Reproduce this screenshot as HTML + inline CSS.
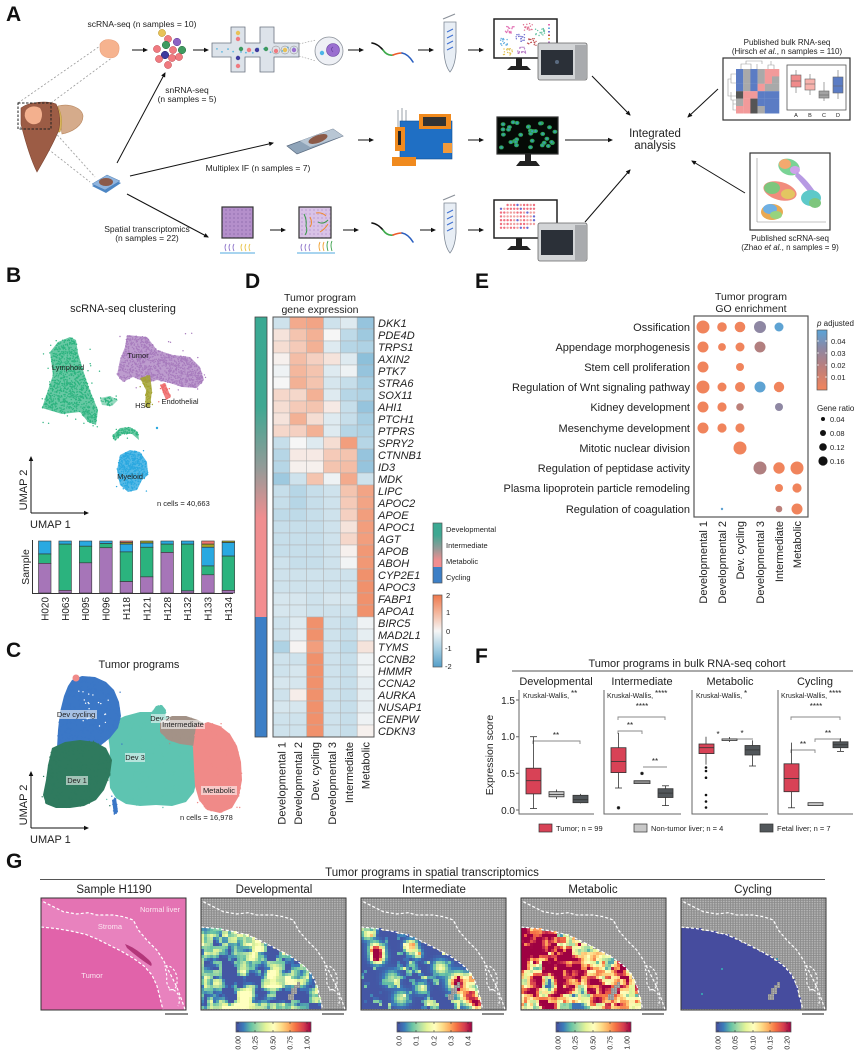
<!DOCTYPE html>
<html><head><meta charset="utf-8"><title>Figure</title>
<style>
html,body{margin:0;padding:0;background:#fff;width:865px;height:1058px;overflow:hidden}
svg{display:block}
text{font-family:"Liberation Sans",Arial,sans-serif;fill:#222}
.it{font-style:italic}
.lb{font-size:11px}
</style></head><body>
<svg id="fig" width="865" height="1058" viewBox="0 0 865 1058" xmlns="http://www.w3.org/2000/svg">
<defs>
 <marker id="ah" viewBox="0 0 10 10" refX="8" refY="5" markerWidth="5" markerHeight="5" orient="auto"><path d="M0,0.5 L10,5 L0,9.5 z" fill="#111"/></marker>
 <pattern id="gp" width="2.6" height="2.3" patternUnits="userSpaceOnUse"><rect width="2.6" height="2.3" fill="#8c8c8c"/><circle cx="1.3" cy="1.15" r="0.85" fill="#b8b8b8"/></pattern>
 <pattern id="pp" width="4" height="4" patternUnits="userSpaceOnUse"><rect width="4" height="4" fill="#b48fcb"/><circle cx="2" cy="2" r="1.1" fill="#a37ebd"/></pattern>
 <pattern id="pp2" width="4" height="4" patternUnits="userSpaceOnUse"><rect width="4" height="4" fill="#d9c2e6"/><circle cx="2" cy="2" r="1.1" fill="#c9aedb"/></pattern>
 <linearGradient id="annot" x1="0" y1="0" x2="0" y2="1">
  <stop offset="0" stop-color="#3aa993"/><stop offset="0.3" stop-color="#3fa892"/><stop offset="0.5" stop-color="#929b98"/><stop offset="0.67" stop-color="#f08e90"/><stop offset="1" stop-color="#f38d90"/>
 </linearGradient>
 <linearGradient id="leg1" x1="0" y1="0" x2="0" y2="1">
  <stop offset="0" stop-color="#3aa993"/><stop offset="0.2" stop-color="#3fa892"/><stop offset="0.42" stop-color="#929b98"/><stop offset="0.62" stop-color="#f08e90"/><stop offset="0.73" stop-color="#f38d90"/><stop offset="0.735" stop-color="#3d7fc6"/><stop offset="1" stop-color="#3d7fc6"/>
 </linearGradient>
 <linearGradient id="hmsc" x1="0" y1="0" x2="0" y2="1">
  <stop offset="0" stop-color="#ee784c"/><stop offset="0.25" stop-color="#f4b79d"/><stop offset="0.5" stop-color="#f6f6f6"/><stop offset="0.75" stop-color="#a6cee2"/><stop offset="1" stop-color="#549ec8"/>
 </linearGradient>
 <linearGradient id="padj" x1="0" y1="0" x2="0" y2="1">
  <stop offset="0" stop-color="#5aa4d8"/><stop offset="0.3" stop-color="#8c88a4"/><stop offset="0.6" stop-color="#b97f7e"/><stop offset="1" stop-color="#f2855c"/>
 </linearGradient>
 <linearGradient id="spec" x1="0" y1="0" x2="1" y2="0">
  <stop offset="0" stop-color="#464c9e"/><stop offset="0.1" stop-color="#3a7cba"/><stop offset="0.2" stop-color="#66c2a5"/><stop offset="0.3" stop-color="#abdda4"/><stop offset="0.4" stop-color="#e6f598"/><stop offset="0.5" stop-color="#ffffbf"/><stop offset="0.6" stop-color="#fee08b"/><stop offset="0.7" stop-color="#fdae61"/><stop offset="0.8" stop-color="#f46d43"/><stop offset="0.9" stop-color="#d53e4f"/><stop offset="1" stop-color="#9e0142"/>
 </linearGradient>
 <path id="dlA" d="M2.3,3.7 L12.3,8.7 L22.3,13.7 L35.7,16 L47.3,14.7 L55.7,17 L72.3,17 L82.3,18.7 L92.3,22 L97.3,32 L105.7,42 L115.7,52 L122.3,62 L129,75.3 L135.7,88.7 L140.7,102 L144,111.3" fill="none" stroke="#fff" stroke-width="1.2" stroke-dasharray="3,2"/>
 <path id="dlB" d="M0,29 L15,30.5 L30,33 L45,36.5 L56,41 L68,47 L80,53 L92,60 L103,68 L111,77 L116,88 L119,100 L122,112" fill="none" stroke="#fff" stroke-width="1.2" stroke-dasharray="3,2"/>
 <path id="dlC" d="M124,68 C132,66 139,78 135,89 C131,96 124,88 126,79 Z M128,92 C136,90 141,100 137,108" fill="none" stroke="#fff" stroke-width="1.1" stroke-dasharray="2.5,2"/>
</defs>
<rect width="865" height="1058" fill="#fff"/>

<!-- ================= PANEL A ================= -->
<text x="6" y="21" font-size="21" font-weight="bold" style="fill:#111">A</text>
<text x="142" y="27" font-size="8.5" text-anchor="middle">scRNA-seq (n samples = 10)</text>
<text x="187" y="93" font-size="8.5" text-anchor="middle">snRNA-seq</text>
<text x="187" y="102" font-size="8.5" text-anchor="middle">(n samples = 5)</text>
<text x="258" y="171" font-size="8.5" text-anchor="middle">Multiplex IF (n samples = 7)</text>
<text x="147" y="232" font-size="8.5" text-anchor="middle">Spatial transcriptomics</text>
<text x="147" y="241" font-size="8.5" text-anchor="middle">(n samples = 22)</text>

<!-- liver -->
<g stroke-width="0.8">
 <line x1="18" y1="103" x2="100" y2="46" stroke="#999" stroke-dasharray="2,2"/>
 <line x1="51" y1="103" x2="113" y2="57" stroke="#999" stroke-dasharray="2,2"/>
 <line x1="20" y1="127" x2="90" y2="182" stroke="#999" stroke-dasharray="2,2"/>
 <line x1="52" y1="129" x2="95" y2="177" stroke="#999" stroke-dasharray="2,2"/>
</g>
<path d="M58,106 C70,103 82,108 83,116 C83,126 72,132 62,134 Z" fill="#d5ab8b" stroke="#b8875f" stroke-width="0.6"/>
<path d="M57,106 C62,112 63,124 60,132 L56,132 C58,122 57,112 54,106 Z" fill="#d8b55a" stroke="#b89540" stroke-width="0.5"/>
<path d="M21,108 C30,101 48,101 56,104 C60,112 61,124 58,132 C52,146 44,160 37,172 C31,160 25,140 21,124 Z" fill="#9c5c45" stroke="#7d4532" stroke-width="0.6"/>
<path d="M26,110 Q32,104 40,108 Q44,114 40,122 Q33,127 27,121 Q23,116 26,110 Z" fill="#f3b08e"/>
<rect x="18" y="103" width="33" height="26" fill="none" stroke="#222" stroke-width="1" stroke-dasharray="2.5,1.5"/>
<!-- slide small -->
<path d="M92,186 L107,177 L121,183 L106,193 Z" fill="#4d86c4"/>
<path d="M92,184 L107,175 L120,181 L105,190 Z" fill="#8fb4de" stroke="#4d7fb6" stroke-width="0.5"/>
<ellipse cx="106" cy="182" rx="7" ry="4" fill="#8b5a4a"/>

<!-- tumor piece -->
<path d="M100,44 Q104,38 112,40 Q120,42 119,50 Q118,58 110,58 Q101,57 100,50 Z" fill="#f6b38f" stroke="#eaa07c" stroke-width="0.6"/>
<!-- cells -->
<g stroke-width="0.5">
<circle cx="162" cy="33" r="3.6" fill="#e8c257" stroke="#b89020"/>
<circle cx="168" cy="39" r="3.6" fill="#f07a80" stroke="#c04a50"/>
<circle cx="177" cy="42" r="3.8" fill="#8c62c4" stroke="#5a3a90"/>
<circle cx="157" cy="49" r="3.6" fill="#f07a80" stroke="#c04a50"/>
<circle cx="166" cy="45" r="3.8" fill="#3f9a60" stroke="#276a40"/>
<circle cx="173" cy="50" r="3.6" fill="#f07a80" stroke="#c04a50"/>
<circle cx="182" cy="50" r="3.8" fill="#3f9a60" stroke="#276a40"/>
<circle cx="165" cy="55" r="3.8" fill="#3e3a9e" stroke="#25226a"/>
<circle cx="159" cy="59" r="3.6" fill="#f07a80" stroke="#c04a50"/>
<circle cx="172" cy="58" r="3.6" fill="#f07a80" stroke="#c04a50"/>
<circle cx="179" cy="57" r="3.6" fill="#f07a80" stroke="#c04a50"/>
<circle cx="168" cy="65" r="3.6" fill="#f07a80" stroke="#c04a50"/>
</g>
<!-- chip -->
<path d="M212,43 H231 V27 H245 V43 H260 V27 H274 V43 H299 V57 H274 V72 H260 V57 H245 V72 H231 V57 H212 Z" fill="#dde3ea" stroke="#6b7480" stroke-width="0.8"/>
<g id="chipdots"></g>
<line x1="299" y1="44" x2="316" y2="40" stroke="#999" stroke-width="0.6" stroke-dasharray="1.5,1.5"/>
<line x1="299" y1="56" x2="316" y2="61" stroke="#999" stroke-width="0.6" stroke-dasharray="1.5,1.5"/>
<circle cx="329" cy="51" r="14" fill="#eef0f5" stroke="#8b919a" stroke-width="0.8"/>
<circle cx="333" cy="50" r="6.5" fill="#9a6fd0" stroke="#6a45a0" stroke-width="0.6"/>
<path d="M333,47 q-3,2 0,5" fill="none" stroke="#6a45a0" stroke-width="0.8"/>
<circle cx="322" cy="53" r="2.2" fill="#4db5e8"/>
<!-- rna strands -->
<g id="rna1" fill="none" stroke-width="1.6" stroke-linecap="round">
 <path d="M372,43 Q378,44 383,50" stroke="#111"/>
 <path d="M383,50 Q387,56 393,55" stroke="#3daa4a"/>
 <path d="M393,55 Q398,53 402,53" stroke="#ef5a2a"/>
 <path d="M402,53 Q408,54 413,62" stroke="#2a5fc0"/>
</g>
<use href="#rna1" x="0" y="180"/>
<!-- tubes -->
<g id="tube1">
 <line x1="443" y1="19" x2="455" y2="14" stroke="#8a9099" stroke-width="1.2"/>
 <path d="M444,22 L456,22 L456,52 Q455,66 450,72 Q445,66 444,52 Z" fill="#e8eef5" stroke="#7d8794" stroke-width="0.8"/>
 <path d="M447,32 l6,-3 M447,38 l6,-3 M447,44 l6,-3 M447,50 l6,-3" stroke="#3d6fd0" stroke-width="1"/>
</g>
<use href="#tube1" x="0" y="181"/>
<!-- monitor 1 -->
<rect x="494" y="19" width="63" height="39" fill="#fff" stroke="#222" stroke-width="1.5"/>
<g id="scat1"></g>
<rect x="516" y="58" width="6" height="8" fill="#222"/>
<path d="M507,70 L511,66 L527,66 L531,70 Z" fill="#222"/>
<rect x="538" y="43" width="49" height="37" rx="2" fill="#d2d4d6" stroke="#666" stroke-width="0.8"/>
<rect x="575" y="45" width="11" height="34" fill="#a9abae"/>
<rect x="541" y="50" width="32" height="25" fill="#2b3038"/>
<circle cx="557" cy="62" r="2" fill="#5a6a80"/>
<!-- IF row -->
<path d="M287,146 L333,129 L343,136 L297,154 Z" fill="#8fa4b9" stroke="#5a6b80" stroke-width="0.7"/>
<path d="M300,141 L333,129 L343,136 L310,147 Z" fill="#b8c6d4"/>
<ellipse cx="318" cy="139" rx="10" ry="3.8" transform="rotate(-20 318 139)" fill="#8b5a48"/>
<!-- machine -->
<path d="M398,110 L398,130 M402,108 L402,128 M406,110 L406,128" stroke="#9aa0a8" stroke-width="1" fill="none"/>
<rect x="400" y="121" width="52" height="38" fill="#1f6fc4" stroke="#124f90" stroke-width="0.6"/>
<rect x="419" y="114" width="32" height="15" fill="#f08a1e"/>
<rect x="423" y="117" width="23" height="9" fill="#333"/>
<rect x="395" y="127" width="10" height="24" fill="#f08a1e"/>
<rect x="398" y="131" width="3" height="14" fill="#222"/>
<rect x="392" y="157" width="24" height="9" fill="#f08a1e"/>
<rect x="443" y="143" width="9" height="10" fill="#f29a3a"/>
<!-- IF monitor -->
<rect x="497" y="117" width="61" height="37" fill="#050a06" stroke="#333" stroke-width="1.2"/>
<g id="ifcells"></g>
<rect x="525" y="154" width="6" height="7" fill="#222"/>
<path d="M516,166 L520,161 L536,161 L540,166 Z" fill="#222"/>
<!-- spatial row -->
<rect x="222" y="207" width="31" height="31" fill="url(#pp)" stroke="#333" stroke-width="1.2"/>
<rect x="299" y="207" width="32" height="31" fill="url(#pp2)" stroke="#333" stroke-width="1.2"/>
<g fill="none" stroke-width="1">
 <path d="M304,214 q3,6 2,12 M306,226 q2,5 -1,9" stroke="#3a9a4a"/>
 <path d="M316,213 q6,-1 10,3" stroke="#f08a30"/>
 <path d="M318,222 q5,3 10,-2" stroke="#3a9a4a"/>
 <path d="M320,232 q5,-3 8,-8" stroke="#f08a30"/>
 <path d="M310,217 q3,6 0,10" stroke="#f08a30"/>
</g>
<g fill="none" stroke-width="0.9">
 <path d="M226,244 q-2,3 0,7 M230,244 q-2,3 0,7 M234,244 q-2,3 0,7" stroke="#8a70c8"/>
 <path d="M242,244 q-2,3 0,7 M246,244 q-2,3 0,7 M250,244 q-2,3 0,7" stroke="#e8c040"/>
 <path d="M302,244 q-2,3 0,7 M306,244 q-2,3 0,7 M310,244 q-2,3 0,7" stroke="#8a70c8"/>
 <path d="M320,242 q-2,4 0,9 M324,242 q-2,4 0,9" stroke="#f0a030"/>
 <path d="M328,241 q-2,4 0,10 M332,241 q-2,4 0,10" stroke="#3aa04a"/>
</g>
<rect x="220" y="252" width="35" height="2" fill="#a8d4ef"/>
<rect x="297" y="252" width="38" height="2" fill="#a8d4ef"/>
<!-- monitor 3 -->
<rect x="494" y="200" width="63" height="38" fill="#fff" stroke="#222" stroke-width="1.5"/>
<g id="spots"></g>
<rect x="516" y="238" width="6" height="8" fill="#222"/>
<path d="M507,250 L511,246 L527,246 L531,250 Z" fill="#222"/>
<rect x="538" y="223" width="49" height="38" rx="2" fill="#d2d4d6" stroke="#666" stroke-width="0.8"/>
<rect x="575" y="225" width="11" height="35" fill="#a9abae"/>
<rect x="541" y="230" width="32" height="25" fill="#2b3038"/>

<!-- arrows A -->
<g stroke="#111" stroke-width="1" marker-end="url(#ah)">
 <line x1="132" y1="50" x2="147" y2="50"/>
 <line x1="193" y1="50" x2="208" y2="50"/>
 <line x1="348" y1="50" x2="363" y2="50"/>
 <line x1="418" y1="50" x2="433" y2="50"/>
 <line x1="468" y1="50" x2="483" y2="50"/>
 <line x1="358" y1="140" x2="373" y2="140"/>
 <line x1="468" y1="140" x2="483" y2="140"/>
 <line x1="565" y1="140" x2="612" y2="140"/>
 <line x1="270" y1="230" x2="285" y2="230"/>
 <line x1="343" y1="230" x2="358" y2="230"/>
 <line x1="420" y1="230" x2="435" y2="230"/>
 <line x1="468" y1="230" x2="483" y2="230"/>
 <line x1="117" y1="163" x2="165" y2="73"/>
 <line x1="130" y1="176" x2="273" y2="143"/>
 <line x1="127" y1="194" x2="208" y2="237"/>
 <line x1="592" y1="76" x2="630" y2="115"/>
 <line x1="585" y1="222" x2="630" y2="170"/>
 <line x1="718" y1="89" x2="688" y2="117"/>
 <line x1="745" y1="193" x2="692" y2="161"/>
</g>
<text x="655" y="137" font-size="11.5" text-anchor="middle">Integrated</text>
<text x="655" y="149" font-size="11.5" text-anchor="middle">analysis</text>

<!-- bulk RNA-seq box -->
<text x="787" y="45" font-size="8" text-anchor="middle">Published bulk RNA-seq</text>
<text x="787" y="54" font-size="8" text-anchor="middle">(Hirsch <tspan font-style="italic">et al.</tspan>, n samples = 110)</text>
<rect x="723" y="58" width="127" height="62" fill="#fff" stroke="#333" stroke-width="1.2"/>
<g id="minihm"></g>
<g stroke="#999" stroke-width="0.6" fill="none">
 <path d="M741,69 V64 H751 V69 M746,64 V61 H762 V64 M757,64 V69 M768,69 V65 H774 V69 M771,65 V61"/>
 <path d="M736,74 H731 V83 H736 M731,79 H728 V96 H731 M731,92 V100 H736 M731,96 H736 M733,104 H736 M733,100 V110 H736"/>
</g>
<rect x="787" y="65" width="59" height="45" fill="#fff" stroke="#555" stroke-width="0.8"/>
<g stroke="#666" stroke-width="0.6">
 <line x1="796" y1="70" x2="796" y2="93"/><rect x="791" y="75" width="10" height="12" fill="#f08b8b"/><line x1="791" y1="81" x2="801" y2="81"/>
 <line x1="810" y1="74" x2="810" y2="95"/><rect x="805" y="79" width="10" height="11" fill="#f7b2ac"/><line x1="805" y1="84" x2="815" y2="84"/>
 <line x1="824" y1="82" x2="824" y2="101"/><rect x="819" y="91" width="10" height="7" fill="#a3a3a3"/><line x1="819" y1="95" x2="829" y2="95"/>
 <line x1="838" y1="70" x2="838" y2="99"/><rect x="833" y="77" width="10" height="16" fill="#5b7cc4"/><line x1="833" y1="86" x2="843" y2="86"/>
</g>
<text x="796" y="117" font-size="5.5" text-anchor="middle">A</text>
<text x="810" y="117" font-size="5.5" text-anchor="middle">B</text>
<text x="824" y="117" font-size="5.5" text-anchor="middle">C</text>
<text x="838" y="117" font-size="5.5" text-anchor="middle">D</text>

<!-- published scRNA box -->
<rect x="750" y="153" width="80" height="77" fill="#fff" stroke="#333" stroke-width="1.2"/>
<line x1="757" y1="158" x2="757" y2="222" stroke="#888" stroke-width="0.6"/>
<line x1="757" y1="222" x2="826" y2="222" stroke="#888" stroke-width="0.6"/>
<g opacity="0.9">
 <ellipse cx="789" cy="167" rx="11" ry="8" fill="#6ccf8a" transform="rotate(20 789 167)"/>
 <ellipse cx="785" cy="164" rx="6" ry="5" fill="#f2a060"/>
 <ellipse cx="795" cy="170" rx="5" ry="4" fill="#c89ae8"/>
 <path d="M797,172 Q808,180 818,196 L815,200 Q804,186 795,176 Z" fill="#b090e0"/>
 <ellipse cx="780" cy="191" rx="17" ry="9" fill="#f08070" transform="rotate(15 780 191)"/>
 <ellipse cx="772" cy="188" rx="8" ry="6" fill="#70c070"/>
 <ellipse cx="788" cy="194" rx="7" ry="5" fill="#e0c050"/>
 <ellipse cx="811" cy="198" rx="10" ry="8" fill="#4cc4c4"/>
 <ellipse cx="815" cy="203" rx="6" ry="5" fill="#70c070"/>
 <ellipse cx="772" cy="212" rx="11" ry="8" fill="#e8a040"/>
 <ellipse cx="770" cy="209" rx="7" ry="5" fill="#60a8e0"/>
 <ellipse cx="776" cy="215" rx="6" ry="4" fill="#8ccf70"/>
</g>
<text x="790" y="241" font-size="8" text-anchor="middle">Published scRNA-seq</text>
<text x="790" y="250" font-size="8" text-anchor="middle">(Zhao <tspan font-style="italic">et al.</tspan>, n samples = 9)</text>

<!-- ================= PANEL B ================= -->
<text x="6" y="282" font-size="21" font-weight="bold" style="fill:#111">B</text>
<text x="123" y="312" font-size="11" text-anchor="middle">scRNA-seq clustering</text>
<g id="umapB"></g>
<g font-size="7.5">
 <text x="68" y="370" text-anchor="middle">Lymphoid</text>
 <text x="138" y="358" text-anchor="middle">Tumor</text>
 <text x="143" y="408" text-anchor="middle">HSC</text>
 <text x="180" y="404" text-anchor="middle">Endothelial</text>
 <text x="130" y="479" text-anchor="middle">Myeloid</text>
 <text x="157" y="506">n cells = 40,663</text>
</g>
<g stroke="#111" stroke-width="1" marker-end="url(#ah)">
 <line x1="31" y1="513" x2="31" y2="457"/>
 <line x1="31" y1="513" x2="88" y2="513"/>
</g>
<text transform="translate(27,490) rotate(-90)" font-size="11" text-anchor="middle">UMAP 2</text>
<text x="30" y="528" font-size="11">UMAP 1</text>
<!-- bars -->
<g id="bars"></g>
<line x1="32.5" y1="540" x2="32.5" y2="593.5" stroke="#333" stroke-width="1"/>
<line x1="32" y1="593.5" x2="233" y2="593.5" stroke="#333" stroke-width="1"/>
<text transform="translate(29,567) rotate(-90)" font-size="10.5" text-anchor="middle">Sample</text>
<g font-size="10" text-anchor="end">
 <text transform="translate(48.4,597) rotate(-90)">H020</text>
 <text transform="translate(68.8,597) rotate(-90)">H063</text>
 <text transform="translate(89.2,597) rotate(-90)">H095</text>
 <text transform="translate(109.6,597) rotate(-90)">H096</text>
 <text transform="translate(130,597) rotate(-90)">H118</text>
 <text transform="translate(150.4,597) rotate(-90)">H121</text>
 <text transform="translate(170.8,597) rotate(-90)">H128</text>
 <text transform="translate(191.2,597) rotate(-90)">H132</text>
 <text transform="translate(211.6,597) rotate(-90)">H133</text>
 <text transform="translate(232,597) rotate(-90)">H134</text>
</g>

<!-- ================= PANEL C ================= -->
<text x="6" y="657" font-size="21" font-weight="bold" style="fill:#111">C</text>
<text x="139" y="668" font-size="11" text-anchor="middle">Tumor programs</text>
<g id="umapC"></g>
<g font-size="7.5">
 <rect x="55" y="710" width="42" height="9" fill="#fff" opacity="0.55"/>
 <text x="76" y="717" text-anchor="middle">Dev cycling</text>
 <rect x="151" y="714" width="19" height="9" fill="#fff" opacity="0.55"/>
 <text x="160" y="721" text-anchor="middle">Dev 2</text>
 <rect x="161" y="720" width="44" height="9" fill="#fff" opacity="0.55"/>
 <text x="183" y="727" text-anchor="middle">Intermediate</text>
 <rect x="125" y="753" width="20" height="9" fill="#fff" opacity="0.55"/>
 <text x="135" y="760" text-anchor="middle">Dev 3</text>
 <rect x="66" y="776" width="22" height="9" fill="#fff" opacity="0.55"/>
 <text x="77" y="783" text-anchor="middle">Dev 1</text>
 <rect x="201" y="786" width="36" height="9" fill="#fff" opacity="0.55"/>
 <text x="219" y="793" text-anchor="middle">Metabolic</text>
 <text x="180" y="820">n cells = 16,978</text>
</g>
<g stroke="#111" stroke-width="1" marker-end="url(#ah)">
 <line x1="31" y1="828" x2="31" y2="772"/>
 <line x1="31" y1="828" x2="88" y2="828"/>
</g>
<text transform="translate(27,805) rotate(-90)" font-size="11" text-anchor="middle">UMAP 2</text>
<text x="30" y="843" font-size="11">UMAP 1</text>

<!-- ================= PANEL D ================= -->
<text x="245" y="288" font-size="21" font-weight="bold" style="fill:#111">D</text>
<text x="320" y="301" font-size="10.5" text-anchor="middle">Tumor program</text>
<text x="320" y="313" font-size="10.5" text-anchor="middle">gene expression</text>
<rect x="255" y="317" width="12" height="300" fill="url(#annot)"/>
<rect x="255" y="617" width="12" height="120" fill="#3d7fc6"/>
<rect x="255" y="317" width="12" height="420" fill="none" stroke="#444" stroke-width="0.8"/>
<g id="hm"></g>
<rect x="273" y="317" width="101" height="420" fill="none" stroke="#555" stroke-width="1"/>
<g class="it" font-size="11">
<text x="378" y="327">DKK1</text><text x="378" y="339">PDE4D</text><text x="378" y="351">TRPS1</text><text x="378" y="363">AXIN2</text><text x="378" y="375">PTK7</text><text x="378" y="387">STRA6</text><text x="378" y="399">SOX11</text><text x="378" y="411">AHI1</text><text x="378" y="423">PTCH1</text><text x="378" y="435">PTPRS</text><text x="378" y="447">SPRY2</text><text x="378" y="459">CTNNB1</text><text x="378" y="471">ID3</text><text x="378" y="483">MDK</text><text x="378" y="495">LIPC</text><text x="378" y="507">APOC2</text><text x="378" y="519">APOE</text><text x="378" y="531">APOC1</text><text x="378" y="543">AGT</text><text x="378" y="555">APOB</text><text x="378" y="567">ABOH</text><text x="378" y="579">CYP2E1</text><text x="378" y="591">APOC3</text><text x="378" y="603">FABP1</text><text x="378" y="615">APOA1</text><text x="378" y="627">BIRC5</text><text x="378" y="639">MAD2L1</text><text x="378" y="651">TYMS</text><text x="378" y="663">CCNB2</text><text x="378" y="675">HMMR</text><text x="378" y="687">CCNA2</text><text x="378" y="699">AURKA</text><text x="378" y="711">NUSAP1</text><text x="378" y="723">CENPW</text><text x="378" y="735">CDKN3</text>
</g>
<g font-size="11" text-anchor="end">
 <text transform="translate(285.4,742) rotate(-90)">Developmental 1</text>
 <text transform="translate(302.2,742) rotate(-90)">Developmental 2</text>
 <text transform="translate(319.1,742) rotate(-90)">Dev. cycling</text>
 <text transform="translate(335.9,742) rotate(-90)">Developmental 3</text>
 <text transform="translate(352.8,742) rotate(-90)">Intermediate</text>
 <text transform="translate(369.6,742) rotate(-90)">Metabolic</text>
</g>
<rect x="433" y="523" width="9" height="60" fill="url(#leg1)" stroke="#555" stroke-width="0.7"/>
<g font-size="7.5">
 <text x="446" y="532">Developmental</text>
 <text x="446" y="548">Intermediate</text>
 <text x="446" y="564">Metabolic</text>
 <text x="446" y="580">Cycling</text>
</g>
<rect x="433" y="595" width="9" height="72" fill="url(#hmsc)" stroke="#555" stroke-width="0.7"/>
<g font-size="7.5">
 <text x="446" y="598">2</text><text x="446" y="615">1</text><text x="446" y="634">0</text><text x="445" y="651">-1</text><text x="445" y="669">-2</text>
</g>

<!-- ================= PANEL E ================= -->
<text x="475" y="288" font-size="21" font-weight="bold" style="fill:#111">E</text>
<text x="751" y="300" font-size="10.5" text-anchor="middle">Tumor program</text>
<text x="751" y="312" font-size="10.5" text-anchor="middle">GO enrichment</text>
<rect x="694" y="316" width="114" height="201" fill="#fff" stroke="#555" stroke-width="1.2"/>
<g font-size="11" text-anchor="end">
 <text x="690" y="331">Ossification</text>
 <text x="690" y="351">Appendage morphogenesis</text>
 <text x="690" y="371">Stem cell proliferation</text>
 <text x="690" y="391">Regulation of Wnt signaling pathway</text>
 <text x="690" y="411">Kidney development</text>
 <text x="690" y="432">Mesenchyme development</text>
 <text x="690" y="452">Mitotic nuclear division</text>
 <text x="690" y="472">Regulation of peptidase activity</text>
 <text x="690" y="492">Plasma lipoprotein particle remodeling</text>
 <text x="690" y="513">Regulation of coagulation</text>
</g>
<g>
 <circle cx="703" cy="327" r="6.5" fill="#f0845c"/><circle cx="722" cy="327" r="4.8" fill="#f0845c"/><circle cx="740" cy="327" r="5.3" fill="#f0845c"/><circle cx="760" cy="327" r="6" fill="#8e87a3"/><circle cx="779" cy="327" r="4.5" fill="#5ea3d3"/>
 <circle cx="703" cy="347" r="5.5" fill="#f0845c"/><circle cx="722" cy="347" r="3.9" fill="#f0845c"/><circle cx="740" cy="347" r="4.5" fill="#f0845c"/><circle cx="760" cy="347" r="5.5" fill="#b27f7f"/>
 <circle cx="703" cy="367" r="5.5" fill="#f0845c"/><circle cx="740" cy="367" r="4" fill="#f0845c"/>
 <circle cx="703" cy="387" r="6.5" fill="#f0845c"/><circle cx="722" cy="387" r="4.5" fill="#f0845c"/><circle cx="740" cy="387" r="5" fill="#f0845c"/><circle cx="760" cy="387" r="5.5" fill="#5ea3d3"/><circle cx="779" cy="387" r="5.2" fill="#f0845c"/>
 <circle cx="703" cy="407" r="5.5" fill="#f0845c"/><circle cx="722" cy="407" r="4.6" fill="#f0845c"/><circle cx="740" cy="407" r="3.8" fill="#bc7f78"/><circle cx="779" cy="407" r="4" fill="#8e87a3"/>
 <circle cx="703" cy="428" r="5.5" fill="#f0845c"/><circle cx="722" cy="428" r="4.6" fill="#f0845c"/><circle cx="740" cy="428" r="4.6" fill="#f0845c"/>
 <circle cx="740" cy="448" r="6.5" fill="#f0845c"/>
 <circle cx="760" cy="468" r="6.5" fill="#b07f80"/><circle cx="779" cy="468" r="5.7" fill="#f0845c"/><circle cx="797" cy="468" r="6.5" fill="#f0845c"/>
 <circle cx="779" cy="488" r="4" fill="#f0845c"/><circle cx="797" cy="488" r="4.6" fill="#f0845c"/>
 <circle cx="722" cy="509" r="1.2" fill="#5ea3d3"/><circle cx="779" cy="509" r="3.3" fill="#bc7f78"/><circle cx="797" cy="509" r="5.5" fill="#f0845c"/>
</g>
<g font-size="11" text-anchor="end">
 <text transform="translate(707,521) rotate(-90)">Developmental 1</text>
 <text transform="translate(726,521) rotate(-90)">Developmental 2</text>
 <text transform="translate(744,521) rotate(-90)">Dev. cycling</text>
 <text transform="translate(764,521) rotate(-90)">Developmental 3</text>
 <text transform="translate(783,521) rotate(-90)">Intermediate</text>
 <text transform="translate(801,521) rotate(-90)">Metabolic</text>
</g>
<text x="817" y="326" font-size="8"><tspan font-style="italic">p</tspan> adjusted</text>
<rect x="817" y="330" width="10" height="60" fill="url(#padj)" stroke="#555" stroke-width="0.7"/>
<g stroke="#fff" stroke-width="0.7"><line x1="817" y1="341" x2="819" y2="341"/><line x1="825" y1="341" x2="827" y2="341"/><line x1="817" y1="353" x2="819" y2="353"/><line x1="825" y1="353" x2="827" y2="353"/><line x1="817" y1="365" x2="819" y2="365"/><line x1="825" y1="365" x2="827" y2="365"/><line x1="817" y1="377" x2="819" y2="377"/><line x1="825" y1="377" x2="827" y2="377"/></g>
<g font-size="7.5">
 <text x="831" y="344">0.04</text><text x="831" y="356">0.03</text><text x="831" y="368">0.02</text><text x="831" y="380">0.01</text>
</g>
<text x="817" y="411" font-size="8">Gene ratio</text>
<circle cx="823" cy="419" r="2" fill="#111"/><circle cx="823" cy="433" r="3" fill="#111"/><circle cx="823" cy="447" r="3.8" fill="#111"/><circle cx="823" cy="461" r="4.6" fill="#111"/>
<g font-size="7.5">
 <text x="830" y="422">0.04</text><text x="830" y="436">0.08</text><text x="830" y="450">0.12</text><text x="830" y="464">0.16</text>
</g>

<!-- ================= PANEL F ================= -->
<text x="475" y="663" font-size="21" font-weight="bold" style="fill:#111">F</text>
<text x="687" y="667" font-size="11" text-anchor="middle">Tumor programs in bulk RNA-seq cohort</text>
<line x1="512" y1="671" x2="853" y2="671" stroke="#555" stroke-width="1"/>
<g font-size="11" text-anchor="middle">
 <text x="556" y="685">Developmental</text>
 <text x="642" y="685">Intermediate</text>
 <text x="730" y="685">Metabolic</text>
 <text x="815" y="685">Cycling</text>
</g>
<g font-size="7">
 <text x="523" y="698">Kruskal-Wallis, <tspan font-size="8" dy="-2">**</tspan></text>
 <text x="607" y="698">Kruskal-Wallis, <tspan font-size="8" dy="-2">****</tspan></text>
 <text x="642" y="709" text-anchor="middle" font-size="8">****</text>
 <text x="696" y="698">Kruskal-Wallis, <tspan font-size="8" dy="-2">*</tspan></text>
 <text x="781" y="698">Kruskal-Wallis, <tspan font-size="8" dy="-2">****</tspan></text>
 <text x="816" y="709" text-anchor="middle" font-size="8">****</text>
</g>
<g stroke="#666" stroke-width="1" fill="none">
 <path d="M519,690 V814 H594"/>
 <path d="M604,690 V814 H681"/>
 <path d="M692,690 V814 H768"/>
 <path d="M778,690 V814 H853"/>
 <path d="M516,810 H519 M516,773.3 H519 M516,736.7 H519 M516,700 H519"/>
</g>
<g font-size="10" text-anchor="end">
 <text x="515" y="704">1.5</text><text x="515" y="740">1.0</text><text x="515" y="777">0.5</text><text x="515" y="814">0.0</text>
</g>
<text transform="translate(493,755) rotate(-90)" font-size="10.5" text-anchor="middle">Expression score</text>
<!-- brackets -->
<g stroke="#888" stroke-width="0.9" fill="none">
 <path d="M533,744 V741 H580 V744"/>
 <path d="M618,720 V717 H665 V720"/>
 <path d="M618,734 V731 H642 V734"/>
 <path d="M643,767 H667"/>
 <path d="M730,739 H753"/>
 <path d="M791,720 V717 H840 V720"/>
 <path d="M815,742 V739 H840 V742"/>
 <path d="M791,753 V750 H815 V753"/>
</g>
<g font-size="8" text-anchor="middle">
 <text x="556" y="738">**</text>
 <text x="630" y="728">**</text>
 <text x="655" y="764">**</text>
 <text x="718" y="737">*</text>
 <text x="742" y="736">*</text>
 <text x="828" y="736">**</text>
 <text x="803" y="747">**</text>
</g>
<!-- boxes -->
<g stroke="#333" stroke-width="0.8">
 <line x1="533.5" y1="736.7" x2="533.5" y2="808.5"/><line x1="530" y1="736.7" x2="537" y2="736.7"/><line x1="530" y1="808.5" x2="537" y2="808.5"/>
 <rect x="526" y="768.2" width="15" height="25.7" fill="#d84256"/><line x1="526" y1="780.7" x2="541" y2="780.7"/>
 <line x1="556.5" y1="789.5" x2="556.5" y2="799"/>
 <rect x="549" y="791.7" width="15" height="5.1" fill="#c8c8c8"/><line x1="549" y1="794.6" x2="564" y2="794.6"/>
 <line x1="580.5" y1="793.9" x2="580.5" y2="803.4"/>
 <rect x="573" y="795.3" width="15" height="7.4" fill="#52575b"/><line x1="573" y1="799.7" x2="588" y2="799.7"/>
 <line x1="618.5" y1="733" x2="618.5" y2="788"/><line x1="615" y1="788" x2="622" y2="788"/>
 <rect x="611" y="747.7" width="15" height="24.9" fill="#d84256"/><line x1="611" y1="761.6" x2="626" y2="761.6"/>
 <circle cx="618.5" cy="807.8" r="1.3" fill="#111"/>
 <rect x="634" y="780.7" width="16" height="2.9" fill="#c8c8c8"/><line x1="634" y1="782" x2="650" y2="782"/>
 <circle cx="642" cy="773.4" r="1.3" fill="#111"/>
 <line x1="665.5" y1="785.8" x2="665.5" y2="805.6"/><line x1="662" y1="785.8" x2="669" y2="785.8"/><line x1="662" y1="805.6" x2="669" y2="805.6"/>
 <rect x="658" y="788.7" width="15" height="8.8" fill="#52575b"/><line x1="658" y1="793.1" x2="673" y2="793.1"/>
 <line x1="706" y1="736.7" x2="706" y2="764.6"/>
 <rect x="699" y="744" width="15" height="9.6" fill="#d84256"/><line x1="699" y1="747.7" x2="714" y2="747.7"/>
 <g fill="#111" stroke="none"><circle cx="706" cy="767.5" r="1.3"/><circle cx="706" cy="771" r="1.3"/><circle cx="706" cy="777.7" r="1.3"/><circle cx="706" cy="795" r="1.3"/><circle cx="706" cy="801.5" r="1.3"/><circle cx="706" cy="807.5" r="1.3"/></g>
 <line x1="729.5" y1="737" x2="729.5" y2="742"/>
 <rect x="722" y="738.9" width="15" height="1.6" fill="#c8c8c8"/>
 <line x1="752.5" y1="740.4" x2="752.5" y2="766"/><line x1="749" y1="766" x2="756" y2="766"/>
 <rect x="745" y="745.5" width="15" height="9.5" fill="#52575b"/><line x1="745" y1="749.9" x2="760" y2="749.9"/>
 <line x1="791.5" y1="742.6" x2="791.5" y2="807.8"/><line x1="788" y1="807.8" x2="795" y2="807.8"/>
 <rect x="784" y="763.8" width="15" height="27.9" fill="#d84256"/><line x1="784" y1="778.5" x2="799" y2="778.5"/>
 <rect x="808" y="802.7" width="15" height="2.9" fill="#c8c8c8"/>
 <line x1="840.5" y1="738.2" x2="840.5" y2="751.4"/><line x1="837" y1="751.4" x2="844" y2="751.4"/>
 <rect x="833" y="741.8" width="15" height="5.9" fill="#52575b"/><line x1="833" y1="744.8" x2="848" y2="744.8"/>
</g>
<rect x="539" y="824" width="13" height="8" fill="#d84256" stroke="#333" stroke-width="0.7"/>
<text x="556" y="831" font-size="7.5">Tumor; n = 99</text>
<rect x="634" y="824" width="13" height="8" fill="#c8c8c8" stroke="#333" stroke-width="0.7"/>
<text x="651" y="831" font-size="7.5">Non-tumor liver; n = 4</text>
<rect x="760" y="824" width="13" height="8" fill="#52575b" stroke="#333" stroke-width="0.7"/>
<text x="777" y="831" font-size="7.5">Fetal liver; n = 7</text>

<!-- ================= PANEL G ================= -->
<text x="6" y="868" font-size="21" font-weight="bold" style="fill:#111">G</text>
<text x="432" y="876" font-size="11.5" text-anchor="middle">Tumor programs in spatial transcriptomics</text>
<line x1="40" y1="879.5" x2="825" y2="879.5" stroke="#555" stroke-width="1"/>
<g font-size="11.5" text-anchor="middle">
 <text x="114" y="893">Sample H1190</text>
 <text x="274" y="893">Developmental</text>
 <text x="434" y="893">Intermediate</text>
 <text x="593" y="893">Metabolic</text>
 <text x="753" y="893">Cycling</text>
</g>
<g transform="translate(41,898)">
 <rect width="145" height="112" fill="#e163aa"/>
 <path d="M2.3,3.7 L12.3,8.7 L22.3,13.7 L35.7,16 L47.3,14.7 L55.7,17 L72.3,17 L82.3,18.7 L92.3,22 L97.3,32 L105.7,42 L115.7,52 L122.3,62 L129,75.3 L135.7,88.7 L140.7,102 L144,111.3 L122,112 L119,100 L116,88 L111,77 L103,68 L92,60 L80,53 L68,47 L56,41 L45,36.5 L30,33 L15,30.5 L0,29 L0,3 Z" fill="#ea8ac3" opacity="0.8"/>
 <path d="M2.3,3.7 L12.3,8.7 L22.3,13.7 L35.7,16 L47.3,14.7 L55.7,17 L72.3,17 L82.3,18.7 L92.3,22 L97.3,32 L105.7,42 L115.7,52 L122.3,62 L129,75.3 L135.7,88.7 L140.7,102 L144,111.3 L145,112 L145,0 L0,0 Z" fill="#e473b3"/>
 <path d="M84,46 Q95,50 108,62 Q112,66 110,68 Q100,62 86,50 Z" fill="#b3367a"/>
 <use href="#dlA"/><use href="#dlB"/><use href="#dlC"/>
 <text x="119" y="14" font-size="7.5" text-anchor="middle" style="fill:#fbe6f1">Normal liver</text>
 <text x="69" y="31" font-size="7.5" text-anchor="middle" style="fill:#fbe6f1">Stroma</text>
 <text x="51" y="80" font-size="7.5" text-anchor="middle" style="fill:#fbe6f1">Tumor</text>
 <rect width="145" height="112" fill="none" stroke="#333" stroke-width="1"/>
</g>
<g id="sp1" transform="translate(201,898)"><rect width="145" height="112" fill="url(#gp)"/><g class="cells"></g><use href="#dlA"/><use href="#dlB"/><use href="#dlC"/><rect width="145" height="112" fill="none" stroke="#333" stroke-width="1"/></g>
<g id="sp2" transform="translate(361,898)"><rect width="145" height="112" fill="url(#gp)"/><g class="cells"></g><use href="#dlA"/><use href="#dlB"/><use href="#dlC"/><rect width="145" height="112" fill="none" stroke="#333" stroke-width="1"/></g>
<g id="sp3" transform="translate(521,898)"><rect width="145" height="112" fill="url(#gp)"/><g class="cells"></g><use href="#dlA"/><use href="#dlB"/><use href="#dlC"/><rect width="145" height="112" fill="none" stroke="#333" stroke-width="1"/></g>
<g id="sp4" transform="translate(681,898)"><rect width="145" height="112" fill="url(#gp)"/><g class="cells"></g><use href="#dlA"/><use href="#dlB"/><use href="#dlC"/><rect width="145" height="112" fill="none" stroke="#333" stroke-width="1"/></g>
<g stroke="#444" stroke-width="1.3">
 <line x1="165" y1="1014" x2="188" y2="1014"/>
 <line x1="322" y1="1014" x2="344" y2="1014"/>
 <line x1="482" y1="1014" x2="504" y2="1014"/>
 <line x1="642" y1="1014" x2="664" y2="1014"/>
 <line x1="802" y1="1014" x2="824" y2="1014"/>
</g>
<g id="cbars">
 <rect x="236" y="1022" width="75" height="10" fill="url(#spec)" stroke="#555" stroke-width="0.7"/>
 <rect x="397" y="1022" width="75" height="10" fill="url(#spec)" stroke="#555" stroke-width="0.7"/>
 <rect x="556" y="1022" width="75" height="10" fill="url(#spec)" stroke="#555" stroke-width="0.7"/>
 <rect x="716" y="1022" width="75" height="10" fill="url(#spec)" stroke="#555" stroke-width="0.7"/>
</g>
<g id="cbticks" stroke="#333" stroke-width="0.6"></g>
<g font-size="7" text-anchor="end">
 <text transform="translate(240.5,1036) rotate(-90)">0.00</text><text transform="translate(257.5,1036) rotate(-90)">0.25</text><text transform="translate(275.5,1036) rotate(-90)">0.50</text><text transform="translate(292.5,1036) rotate(-90)">0.75</text><text transform="translate(309.5,1036) rotate(-90)">1.00</text>
 <text transform="translate(401.5,1036) rotate(-90)">0.0</text><text transform="translate(418.5,1036) rotate(-90)">0.1</text><text transform="translate(436.5,1036) rotate(-90)">0.2</text><text transform="translate(453.5,1036) rotate(-90)">0.3</text><text transform="translate(470.5,1036) rotate(-90)">0.4</text>
 <text transform="translate(560.5,1036) rotate(-90)">0.00</text><text transform="translate(577.5,1036) rotate(-90)">0.25</text><text transform="translate(595.5,1036) rotate(-90)">0.50</text><text transform="translate(612.5,1036) rotate(-90)">0.75</text><text transform="translate(629.5,1036) rotate(-90)">1.00</text>
 <text transform="translate(720.5,1036) rotate(-90)">0.00</text><text transform="translate(737.5,1036) rotate(-90)">0.05</text><text transform="translate(755.5,1036) rotate(-90)">0.10</text><text transform="translate(772.5,1036) rotate(-90)">0.15</text><text transform="translate(789.5,1036) rotate(-90)">0.20</text>
</g>
</svg>
<script>
(function(){
const NS="http://www.w3.org/2000/svg";
function el(tag,attrs,parent){const e=document.createElementNS(NS,tag);for(const k in attrs)e.setAttribute(k,attrs[k]);parent.appendChild(e);return e;}
function $(id){return document.getElementById(id);}
function mulberry32(a){return function(){a|=0;a=a+0x6D2B79F5|0;let t=Math.imul(a^a>>>15,1|a);t=t+Math.imul(t^t>>>7,61|t)^t;return((t^t>>>14)>>>0)/4294967296;}}
const R=mulberry32(12345);
function pip(p,poly){let x=p[0],y=p[1],ins=false;for(let i=0,j=poly.length-1;i<poly.length;j=i++){const xi=poly[i][0],yi=poly[i][1],xj=poly[j][0],yj=poly[j][1];if(((yi>y)!==(yj>y))&&(x<(xj-xi)*(y-yi)/(yj-yi)+xi))ins=!ins;}return ins;}
function ptsStr(poly){return poly.map(p=>p[0]+","+p[1]).join(" ");}
function cloud(g,poly,col,n,op){el('polygon',{points:ptsStr(poly),fill:col,'fill-opacity':op},g);
 let xs=poly.map(p=>p[0]),ys=poly.map(p=>p[1]);let x0=Math.min(...xs)-2,x1=Math.max(...xs)+2,y0=Math.min(...ys)-2,y1=Math.max(...ys)+2;
 let c=0,tries=0;while(c<n&&tries<n*20){tries++;const x=x0+R()*(x1-x0),y=y0+R()*(y1-y0);
  let inside=pip([x,y],poly);if(!inside){ if(R()<0.985) continue; }
  el('circle',{cx:x.toFixed(1),cy:y.toFixed(1),r:0.7,fill:col},g);c++;}}
const cd=$('chipdots');
for(let i=0;i<14;i++){el('circle',{cx:215+i*6+R()*2,cy:47+R()*6,r:0.9,fill:'#5db7e0'},cd);}
[[241,49,'#3f9a60'],[249,50,'#f07a80'],[257,50,'#3e3a9e'],[266,49,'#3f9a60'],[276,51,'#f07a80'],[285,50,'#e8c257'],[294,50,'#9a6fd0'],[238,33,'#e8c257'],[238,39,'#f07a80'],[238,58,'#3e3a9e'],[238,66,'#f07a80']].forEach(a=>{el('circle',{cx:a[0],cy:a[1],r:2.2,fill:a[2]},cd);});
[276,285,294].forEach(x=>el('circle',{cx:x,cy:50,r:4,fill:'none',stroke:'#888','stroke-width':0.5},cd));
const s1=$('scat1');const cls=[[510,30,'#e06ab0'],[503,42,'#6ab0e0'],[520,38,'#7070d0'],[528,27,'#e07090'],[532,42,'#c05050'],[508,52,'#e0c050'],[522,50,'#b070c0'],[540,32,'#60c0a0']];
cls.forEach(c=>{for(let i=0;i<18;i++){el('circle',{cx:c[0]+(R()-0.5)*9,cy:c[1]+(R()-0.5)*7,r:0.7,fill:c[2]},s1);}});
for(let i=0;i<8;i++)el('rect',{x:548,y:24+i*3.5,width:2,height:1.5,fill:['#e06ab0','#6ab0e0','#7070d0','#c05050','#e0c050','#b070c0','#60c0a0','#999'][i]},s1);
const ic=$('ifcells');
for(let i=0;i<34;i++){const x=500+R()*55,y=120+R()*31;el('ellipse',{cx:x.toFixed(1),cy:y.toFixed(1),rx:2.4,ry:2,fill:'#2ea85a'},ic);el('circle',{cx:x.toFixed(1),cy:y.toFixed(1),r:1.1,fill:'#3a9ab8'},ic);}
const sp=$('spots');
for(let r=0;r<7;r++)for(let c=0;c<11;c++){if((r===0&&c<2)||(r===6&&c>8))continue;el('circle',{cx:501+c*3.3,cy:205+r*3.8,r:1.2,fill:R()<0.2?'#6a6ad0':(R()<0.5?'#f07080':'#f0a0a0')},sp);}
const mh=$('minihm');const B='#5b7cc4',G='#a9a9a9',P='#f29a9a',D='#555';
const mm=[[B,G,B,G,P,P],[B,G,B,G,P,G],[B,G,B,P,G,G],[D,P,P,B,B,B],[G,P,D,B,B,B],[P,P,D,G,B,B]];
for(let r=0;r<6;r++)for(let c=0;c<6;c++)el('rect',{x:736+c*7.2,y:69+r*7.4,width:7.3,height:7.5,fill:mm[r][c]},mh);
const gB=$('umapB');
cloud(gB,[[70,337],[76,340],[78,353],[84,373],[89,388],[93,398],[98,410],[96,425],[88,422],[80,412],[62,414],[42,408],[46,396],[53,375],[50,352],[58,342]],'#2db37f',900,0.72);
cloud(gB,[[100,398],[110,396],[118,400],[112,406],[102,405]],'#2db37f',40,0.5);
cloud(gB,[[127,335],[147,337],[157,350],[173,355],[190,357],[200,367],[204,380],[197,388],[182,387],[170,383],[157,380],[147,383],[133,377],[123,382],[117,375],[120,360],[125,347]],'#a77bbd',1000,0.75);
cloud(gB,[[140,378],[150,375],[152,390],[150,408],[145,407],[146,390]],'#a3a330',60,0.85);
cloud(gB,[[160,385],[165,383],[171,397],[166,400]],'#ee6a6a',40,0.85);
cloud(gB,[[112,436],[120,428],[130,427],[138,432],[139,440],[132,434],[122,434],[115,441]],'#2db37f',70,0.7);
cloud(gB,[[120,455],[130,450],[140,452],[147,462],[148,475],[142,480],[137,490],[128,492],[120,485],[117,470]],'#2aa8e0',400,0.8);
el('circle',{cx:157,cy:428,r:1.2,fill:'#2aa8e0'},gB);
const gb=$('bars');const bc={b:'#29a9e1',g:'#2bb37e',p:'#a675b8',o:'#a3a426',r:'#f0776f'};
const bars=[[['b',.25],['g',.18],['p',.57]],[['b',.06],['g',.89],['p',.05]],[['b',.1],['g',.32],['p',.58]],[['b',.05],['g',.08],['p',.87]],[['r',.03],['o',.03],['b',.15],['g',.57],['p',.22]],[['o',.04],['b',.08],['g',.57],['p',.31]],[['b',.06],['g',.16],['p',.78]],[['b',.06],['g',.9],['p',.04]],[['r',.06],['o',.06],['b',.36],['g',.17],['p',.35]],[['o',.03],['b',.26],['g',.66],['p',.05]]];
bars.forEach((bar,i)=>{let y=541;const x=38.5+i*20.4;bar.forEach(s=>{const h=s[1]*52;el('rect',{x:x,y:y.toFixed(2),width:12.5,height:h.toFixed(2),fill:bc[s[0]],stroke:'#333','stroke-width':0.6},gb);y+=h;});});
const gC=$('umapC');
cloud(gC,[[112,722],[125,716],[140,712],[152,712],[165,716],[178,720],[190,726],[198,738],[200,755],[198,775],[194,792],[186,802],[172,806],[156,805],[140,806],[126,804],[116,798],[110,788],[109,772],[110,750],[108,735]],'#5ec4b1',500,1);
cloud(gC,[[152,712],[156,706],[162,705],[166,710],[165,720],[156,722]],'#5ec4b1',40,1);
cloud(gC,[[160,722],[172,716],[186,716],[198,720],[208,726],[206,740],[195,746],[180,744],[168,740],[160,732]],'#a39287',150,1);
cloud(gC,[[196,726],[208,722],[220,726],[230,734],[237,746],[241,762],[242,780],[239,796],[232,808],[220,813],[207,810],[199,800],[195,786],[194,768],[193,748]],'#f08a88',350,1);
cloud(gC,[[72,680],[82,676],[95,677],[106,682],[114,690],[119,702],[121,716],[118,728],[110,738],[100,746],[88,752],[75,756],[62,760],[56,762],[57,748],[58,730],[60,712],[64,696],[68,686]],'#3b77c6',450,1);
for(let i=0;i<22;i++){el('circle',{cx:(78+R()*32).toFixed(1),cy:(690+R()*40).toFixed(1),r:0.7,fill:'#fff'},gC);}
cloud(gC,[[52,748],[65,742],[80,740],[95,742],[106,748],[112,760],[110,775],[104,790],[96,800],[84,806],[70,808],[56,808],[46,804],[43,795],[46,780],[48,765]],'#2f7a5e',450,1);
cloud(gC,[[112,800],[116,798],[118,812],[114,815]],'#3b77c6',20,1);
el('circle',{cx:76,cy:678,r:3.5,fill:'#f08a88'},gC);
const HM=[[-0.5,1.2,1.3,-0.5,-0.3,-1.2],[0.3,0.8,1.1,0,-0.7,-1.1],[0.4,0.7,1.1,-0.3,-0.8,-0.9],[0.1,0.9,0.6,0.3,-0.3,-1.3],[-0.1,1.0,0.8,-0.3,-0.1,-1.2],[0,1.1,0.8,-0.4,-0.6,-1.0],[0.5,0.5,1.1,-0.3,-0.8,-0.9],[0.4,0.7,0.8,0.2,-0.6,-1.2],[0.3,1.1,0.4,-0.3,-0.6,-1.0],[0.5,0.6,1.1,-0.3,-0.8,-0.9],[-0.6,0,-0.3,0.4,1.4,-0.8],[-0.8,0.2,0.2,0.7,0.8,-1.2],[-0.8,0.1,0.1,0.8,0.9,-1.2],[-1.1,-0.5,0.8,-0.1,1.2,-0.5],[-0.6,-0.8,-0.6,-0.5,0.8,1.3],[-0.6,-0.8,-0.6,-0.5,0.7,1.3],[-0.7,-0.7,-0.6,-0.5,0.6,1.4],[-0.6,-0.6,-0.6,-0.5,0.3,1.4],[-0.6,-0.6,-0.6,-0.5,0.5,1.4],[-0.6,-0.6,-0.6,-0.5,0.1,1.5],[-0.5,-0.6,-0.6,-0.5,-0.05,1.5],[-0.5,-0.5,-0.5,-0.5,-0.5,1.6],[-0.5,-0.5,-0.5,-0.5,-0.5,1.6],[-0.4,-0.4,-0.5,-0.4,-0.4,1.6],[-0.4,-0.4,-0.5,-0.5,-0.5,1.6],[-0.5,-0.3,1.6,-0.5,-0.6,-0.1],[-0.5,-0.2,1.6,-0.5,-0.6,-0.2],[-0.9,0.05,1.4,-0.5,-0.7,0.3],[-0.5,-0.5,1.6,-0.5,-0.6,-0.1],[-0.5,-0.4,1.6,-0.5,-0.6,-0.1],[-0.4,-0.4,1.6,-0.5,-0.6,-0.2],[-0.5,0.15,1.6,-0.5,-0.6,-0.2],[-0.4,-0.4,1.6,-0.5,-0.6,-0.2],[-0.5,-0.5,1.6,-0.5,-0.6,-0.1],[-0.5,-0.5,1.6,-0.5,-0.6,0.1]];
const st=[[-2,[84,158,200]],[-1,[166,206,226]],[0,[246,246,246]],[1,[244,183,157]],[2,[238,120,76]]];
function hmCol(v){v=Math.max(-2,Math.min(2,v));for(let i=0;i<4;i++){if(v<=st[i+1][0]){const t=(v-st[i][0])/(st[i+1][0]-st[i][0]);const a=st[i][1],b=st[i+1][1];return 'rgb('+[0,1,2].map(k=>Math.round(a[k]+(b[k]-a[k])*t)).join(',')+')';}}return 'rgb(238,120,76)';}
const gh=$('hm');const cw=101/6;
for(let r=0;r<35;r++)for(let c=0;c<6;c++)el('rect',{x:(273+c*cw).toFixed(2),y:317+r*12,width:cw.toFixed(2),height:12,fill:hmCol(HM[r][c]),stroke:'#b0b0b0','stroke-width':0.5},gh);
const SP=[[0,[70,76,158]],[0.1,[58,124,186]],[0.2,[102,194,165]],[0.3,[171,221,164]],[0.4,[230,245,152]],[0.5,[255,255,191]],[0.6,[254,224,139]],[0.7,[253,174,97]],[0.8,[244,109,67]],[0.9,[213,62,79]],[1,[158,1,66]]];
function spc(v){v=Math.max(0,Math.min(1,v));for(let i=0;i<10;i++){if(v<=SP[i+1][0]){const t=(v-SP[i][0])/0.1;const a=SP[i][1],b=SP[i+1][1];return 'rgb('+[0,1,2].map(k=>Math.round(a[k]+(b[k]-a[k])*t)).join(',')+')';}}return 'rgb(158,1,66)';}
function vnoise(seed,gw,gh){const r=mulberry32(seed);const W=gw+2,H=gh+2;const g=new Float32Array(W*H);for(let i=0;i<g.length;i++)g[i]=r();return function(x,y){x=Math.max(0,Math.min(gw,x));y=Math.max(0,Math.min(gh,y));const xi=Math.floor(x),yi=Math.floor(y);let fx=x-xi,fy=y-yi;fx=fx*fx*(3-2*fx);fy=fy*fy*(3-2*fy);const a=g[yi*W+xi],b=g[yi*W+xi+1],c=g[(yi+1)*W+xi],d=g[(yi+1)*W+xi+1];return a+(b-a)*fx+(c-a)*fy+(a-b-c+d)*fx*fy;};}
function cl(t){return Math.max(0,Math.min(1,t));}
const bound=[[0,29],[15,30.5],[30,33],[45,36.5],[56,41],[68,47],[80,53],[92,60],[103,68],[111,77],[116,88],[119,100],[122,112],[0,112]];
const hole=[[86,101],[93,88],[98,84],[97,94],[92,101]];
const n1a=vnoise(11,10,8),n2a=vnoise(12,30,24),n1c=vnoise(31,10,8),n2c=vnoise(32,30,24),n2b=vnoise(21,30,24),n1b=vnoise(22,12,10);
const hot=[[17,58,4.5,1.0],[14,49,4,0.6],[50,48,4,0.7],[56,56,3,0.5],[97,84,6,0.85],[108,98,6,0.9],[115,106,4,0.8],[80,70,5,0.45],[30,80,5,0.35],[40,100,5,0.3],[112,80,4,0.6],[6,36,4,0.5],[60,90,4,0.3]];
function fDev(x,y){const a=n1a(x/145*10,y/112*8),b=n2a(x/145*30,y/112*24);return 0.02+0.48*cl((0.6*a+0.4*b-0.35)/0.38);}
function fInt(x,y){let v=0.02;const b=n2b(x/145*30,y/112*24),a=n1b(x/145*12,y/112*10);if(b>0.62)v+=(b-0.62)*1.2;hot.forEach(h=>{const d2=(x-h[0])**2+(y-h[1])**2;v+=h[3]*Math.exp(-d2/(2*h[2]*h[2]))*(0.6+0.8*a);});return v;}
function fMet(x,y){const a=n1c(x/145*10,y/112*8),b=n2c(x/145*30,y/112*24);return 0.08+0.95*cl((0.55*a+0.45*b-0.22)/0.45);}
function fCyc(x,y){return 0.0;}
const fns=[fDev,fInt,fMet,fCyc];
['sp1','sp2','sp3','sp4'].forEach((id,k)=>{const g=document.querySelector('#'+id+' .cells');const f=fns[k];const s=3;
 for(let gy=0;gy<38;gy++)for(let gx=0;gx<49;gx++){const cx=gx*s+1.5,cy=gy*s+1.5;if(cx>145||cy>112)continue;if(!pip([cx,cy],bound)||pip([cx,cy],hole))continue;
  const w=Math.min(s,145-gx*s),h=Math.min(s,112-gy*s);
  el('rect',{x:gx*s,y:gy*s,width:(w+0.05).toFixed(2),height:(h+0.05).toFixed(2),fill:spc(f(cx,cy))},g);}
 if(k===3){[[40,70],[95,60],[20,95]].forEach(p=>el('rect',{x:p[0],y:p[1],width:2,height:2,fill:'#3a9ab0'},g));}
});
const ct=$('cbticks');[236,397,556,716].forEach(x0=>{[2,19,37,54,71].forEach(d=>{el('line',{x1:x0+d,y1:1022,x2:x0+d,y2:1024},ct);el('line',{x1:x0+d,y1:1030,x2:x0+d,y2:1032},ct);});});
})();
</script>
</body></html>
